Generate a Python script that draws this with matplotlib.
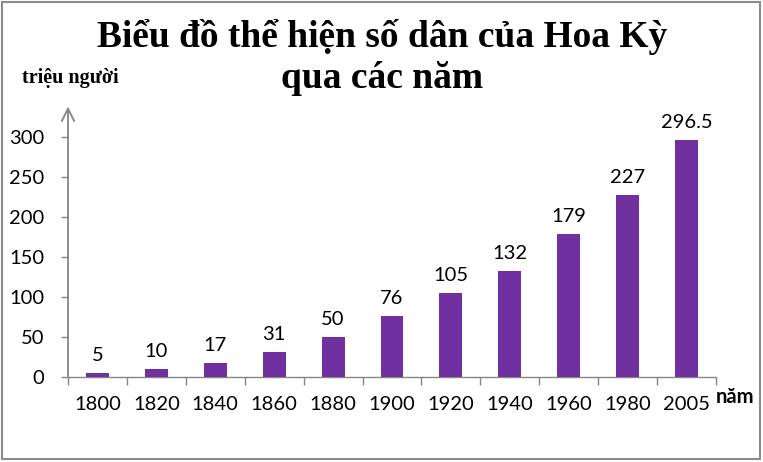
import matplotlib
matplotlib.use("Agg")
import matplotlib.pyplot as plt
from matplotlib.patches import Rectangle

years = ["1800", "1820", "1840", "1860", "1880", "1900", "1920", "1940", "1960", "1980", "2005"]
population = [5, 10, 17, 31, 50, 76, 105, 132, 179, 227, 296.5]
labels = ["5", "10", "17", "31", "50", "76", "105", "132", "179", "227", "296.5"]
yticks = [0, 50, 100, 150, 200, 250, 300]

title = "Biểu đồ thể hiện số dân của Hoa Kỳ\nqua các năm"
ylabel = "triệu người"
xlabel = "năm"

W, H = 763, 462
fig = plt.figure(figsize=(W / 100, H / 100), dpi=100)

ax_left, ax_right = 68, 716
ax_bottom = 377
ymax = 338
ppu = 0.8
ax_top = ax_bottom - ymax * ppu
ax = fig.add_axes([ax_left / W, 1 - ax_bottom / H, (ax_right - ax_left) / W, (ax_bottom - ax_top) / H])

grey = "#868686"
tick_font = "Lato"
fs = 14.5
x = list(range(len(years)))
ax.bar(x, population, width=0.39, color="#7030A0", zorder=3)
for xi, v, lab in zip(x, population, labels):
    ax.annotate(lab, (xi, v), xytext=(0, 6.5), textcoords="offset points",
                ha="center", va="bottom", fontsize=fs, family=tick_font, color="#000000")

ax.set_xlim(-0.5, len(years) - 0.5)
ax.set_ylim(0, ymax)
ax.set_yticks(yticks)
ax.set_yticklabels([str(t) for t in yticks], fontsize=fs, family=tick_font)
ax.set_xticks(x)
ax.set_xticklabels(years, fontsize=fs, family=tick_font)
ax.set_xticks([i - 0.5 for i in range(len(years) + 1)], minor=True)
ax.tick_params(axis="x", which="major", length=0, pad=14)
ax.tick_params(axis="x", which="minor", length=6, color=grey, width=1)
ax.tick_params(axis="y", length=5, color=grey, width=1, pad=12)

for s in ["top", "right", "left"]:
    ax.spines[s].set_visible(False)
ax.spines["bottom"].set_color(grey)
ax.spines["bottom"].set_linewidth(1)
ax.set_facecolor("none")

ax.annotate("", xy=(0, 1), xytext=(0, 0), xycoords="axes fraction",
            arrowprops=dict(arrowstyle="->,head_length=0.9,head_width=0.45", color=grey, lw=1.3,
                            shrinkA=0, shrinkB=0))

fig.text(382 / W, 1 - 37 / H, "Biểu đồ thể hiện số dân của Hoa Kỳ", ha="center", va="center",
         fontsize=27, fontweight="bold", family="Liberation Serif")
fig.text(382 / W, 1 - 78 / H, "qua các năm", ha="center", va="center",
         fontsize=27, fontweight="bold", family="Liberation Serif")
fig.text(22 / W, 1 - 78 / H, ylabel, ha="left", va="center",
         fontsize=14.5, fontweight="bold", family="Liberation Serif")
fig.text(716 / W, 1 - 397 / H, xlabel, ha="left", va="center",
         fontsize=14.5, fontweight="bold", family=tick_font)

fig.patches.append(Rectangle((2 / W, 3 / H), (W - 5) / W, (H - 5) / H, transform=fig.transFigure,
                             fill=False, edgecolor="#8c8c8c", lw=1.5))

fig.savefig("out.png", dpi=100)
